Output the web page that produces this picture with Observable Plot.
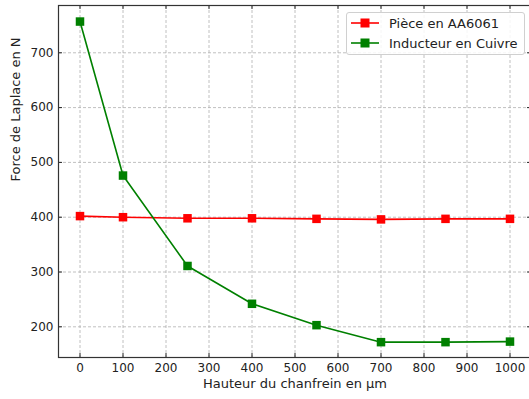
<!DOCTYPE html>
<html>
<head>
<meta charset="utf-8">
<script src="https://cdn.jsdelivr.net/npm/d3@7"></script>
<script src="https://cdn.jsdelivr.net/npm/@observablehq/plot@0.6"></script>
<style>
  html, body { margin: 0; padding: 0; background: #fff; overflow: hidden; }
  #wrap { position: relative; width: 529px; height: 399px; overflow: hidden; font-family: "DejaVu Sans", sans-serif; }
  #wrap > svg { display: block; max-width: none !important; width: 533px !important; height: 399px !important; }
  #legend { position: absolute; left: 346px; top: 12px; width: 177px; height: 41px; border: 1px solid #d0d0d0; border-radius: 3px; background: rgba(255,255,255,0.85); font-size: 13px; color: #222; }
  .row { position: absolute; left: 4px; height: 20px; display: flex; align-items: center; }
  .row span { margin-left: 10px; }
</style>
</head>
<body>
<div id="wrap"></div>
<script>
const hauteur = [0, 100, 250, 400, 550, 700, 850, 1000];
const piece = [402, 400, 398, 398, 397, 396, 397, 397];
const inducteur = [757, 476, 311, 242, 203, 172, 172, 173];
const seriesNames = ["Pièce en AA6061", "Inducteur en Cuivre"];
const seriesColors = ["#ff0000", "#008000"];
const xTicks = [0, 100, 200, 300, 400, 500, 600, 700, 800, 900, 1000];
const yTicks = [200, 300, 400, 500, 600, 700];

const data = [];
hauteur.forEach((h, i) => {
  data.push({x: h, y: piece[i], s: seriesNames[0]});
  data.push({x: h, y: inducteur[i], s: seriesNames[1]});
});

// the plot frame extends slightly beyond the visible 529px (cropped like the reference)
const mL = 58, mR = 2, mT = 5, mB = 42, W = 533, H = 399;
const pw = W - mL - mR, ph = H - mT - mB;
const tk = 4;

const chart = Plot.plot({
  width: W, height: H,
  marginLeft: mL, marginRight: mR, marginTop: mT, marginBottom: mB,
  style: {fontFamily: "DejaVu Sans, sans-serif", fontSize: "12px", color: "#222", background: "#fff"},
  x: {domain: [-50, 1050], ticks: xTicks, label: null, tickFormat: d3.format("d")},
  y: {domain: [144, 786.3], ticks: yTicks, label: null, tickFormat: d3.format("d")},
  color: {domain: seriesNames, range: seriesColors},
  marks: [
    Plot.gridX(xTicks, {stroke: "#b0b0b0", strokeOpacity: 1, strokeDasharray: "3,2", strokeWidth: 0.8}),
    Plot.gridY(yTicks, {stroke: "#b0b0b0", strokeOpacity: 1, strokeDasharray: "3,2", strokeWidth: 0.8}),
    Plot.axisX(xTicks, {tickSize: 0, tickPadding: 6, fontSize: 12, label: null, tickFormat: d3.format("d")}),
    Plot.axisY(yTicks, {tickSize: 0, tickPadding: 5, fontSize: 12, label: null, tickFormat: d3.format("d")}),
    Plot.tickX(xTicks, {x: d => d, insetTop: ph - tk, stroke: "#222"}),
    Plot.tickX(xTicks, {x: d => d, insetBottom: ph - tk, stroke: "#222"}),
    Plot.tickY(yTicks, {y: d => d, insetRight: pw - tk, stroke: "#222"}),
    Plot.tickY(yTicks, {y: d => d, insetLeft: pw - tk, stroke: "#222"}),
    Plot.line(data, {x: "x", y: "y", z: "s", stroke: "s", strokeWidth: 1.6}),
    Plot.dot(data, {x: "x", y: "y", fill: "s", symbol: "square", r: 4.8, stroke: "none"}),
    Plot.frame({stroke: "#333", strokeWidth: 1.2}),
    Plot.text(["Hauteur du chanfrein en µm"], {frameAnchor: "bottom", dy: 30, fontSize: 13, fill: "#222"}),
    Plot.text(["Force de Laplace en N"], {frameAnchor: "left", dx: -43, rotate: -90, fontSize: 13, fill: "#222"})
  ]
});

const wrap = document.getElementById("wrap");
wrap.appendChild(chart);

const legend = document.createElement("div");
legend.id = "legend";
seriesNames.forEach((name, i) => {
  const row = document.createElement("div");
  row.className = "row";
  row.style.top = (i === 0 ? 0 : 20) + "px";
  const c = seriesColors[i];
  row.innerHTML = `<svg width="28" height="12"><line x1="0" y1="6" x2="28" y2="6" stroke="${c}" stroke-width="1.6"/><rect x="9.5" y="1.5" width="9" height="9" fill="${c}"/></svg><span>${name}</span>`;
  legend.appendChild(row);
});
wrap.appendChild(legend);
</script>
</body>
</html>
